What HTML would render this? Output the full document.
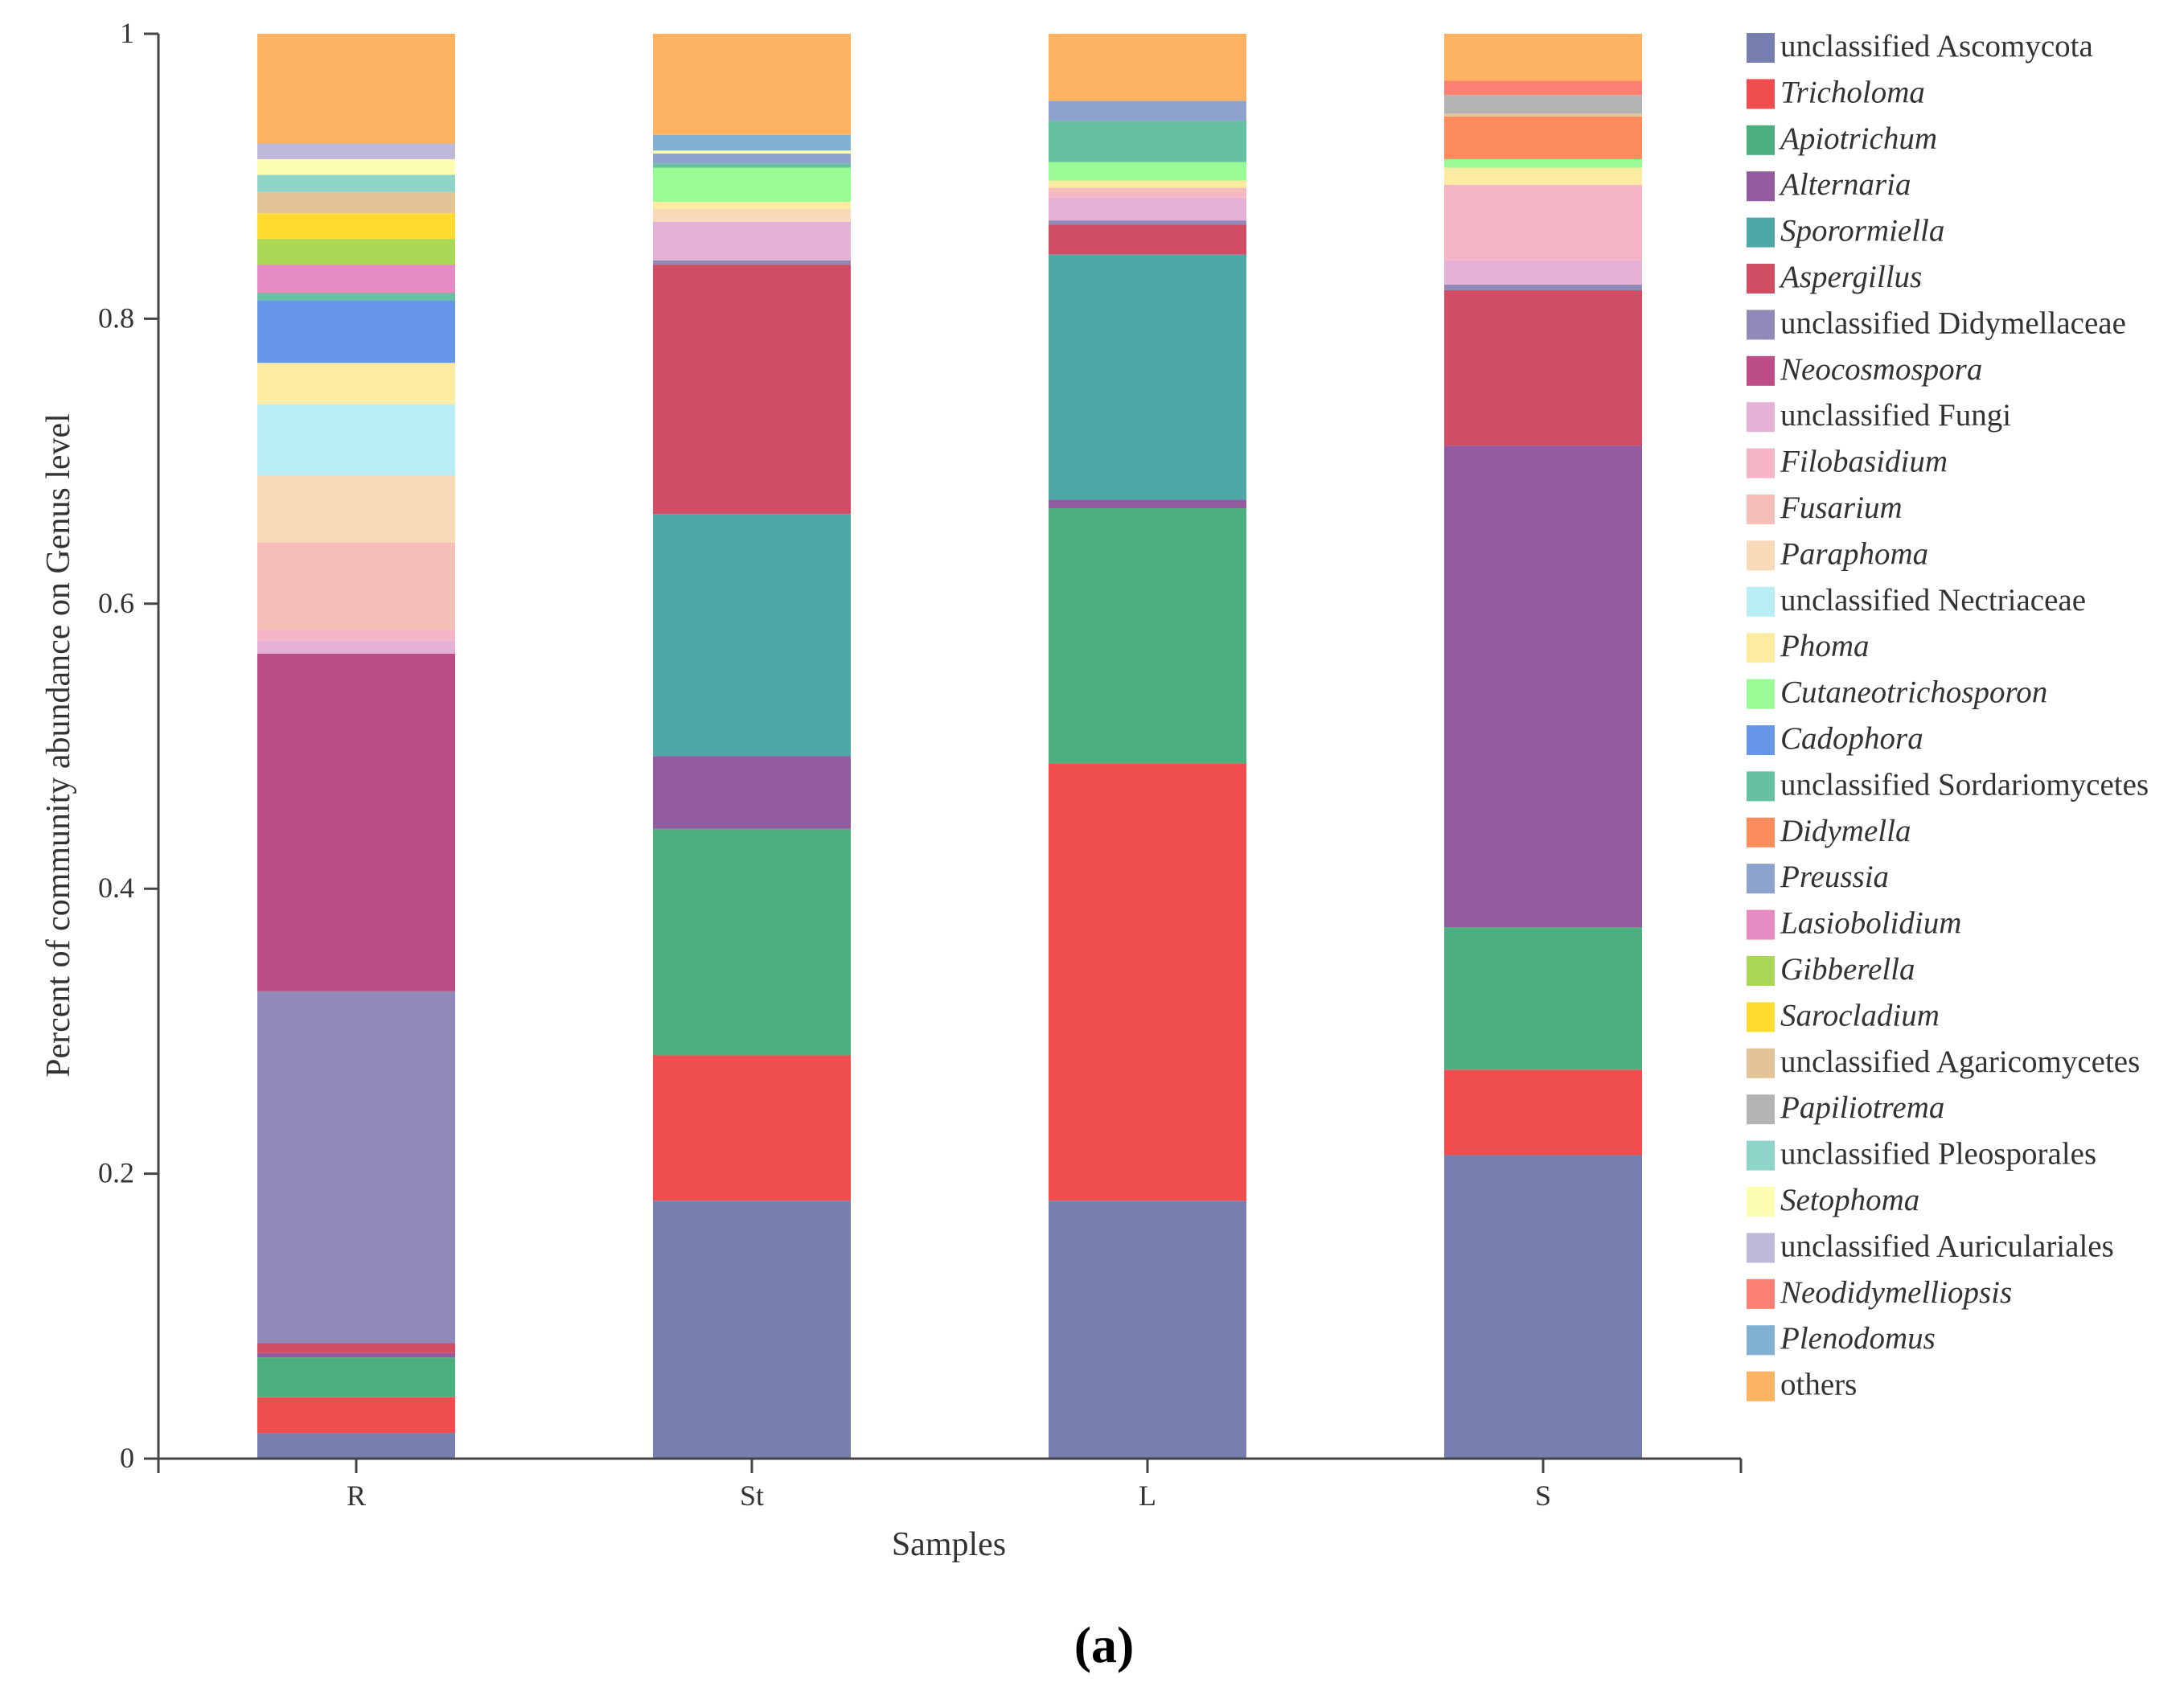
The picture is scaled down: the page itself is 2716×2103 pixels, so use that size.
<!DOCTYPE html>
<html><head><meta charset="utf-8"><style>
html,body{margin:0;padding:0;background:#fff;}
svg{display:block;}
text{font-family:"Liberation Serif","DejaVu Serif",serif;}
</style></head><body>
<svg id="chart" width="2716" height="2103" viewBox="0 0 2716 2103" xmlns="http://www.w3.org/2000/svg">
<g id="bars"></g>
<g id="axes"></g>
<g id="legend"></g>
<text x="0" y="0" transform="translate(86,927) rotate(-90)" text-anchor="middle" font-size="42" fill="#333">Percent of community abundance on Genus level</text>
<text x="1180" y="1934" text-anchor="middle" font-size="42" fill="#333">Samples</text>
<text x="1373" y="2067" text-anchor="middle" font-size="64" font-weight="bold" fill="#000">(a)</text>
</svg>
<script>
const categories = ["R","St","L","S"];
const seriesNames = ["unclassified Ascomycota","Tricholoma","Apiotrichum","Alternaria","Sporormiella","Aspergillus","unclassified Didymellaceae","Neocosmospora","unclassified Fungi","Filobasidium","Fusarium","Paraphoma","unclassified Nectriaceae","Phoma","Cutaneotrichosporon","Cadophora","unclassified Sordariomycetes","Didymella","Preussia","Lasiobolidium","Gibberella","Sarocladium","unclassified Agaricomycetes","Papiliotrema","unclassified Pleosporales","Setophoma","unclassified Auriculariales","Neodidymelliopsis","Plenodomus","others"];
const seriesColors = ["#767fb0","#f04e4e","#4caf7d","#925a9f","#4ea8a6","#d04e64","#9189b8","#bd4d87","#e5b1d6","#f5b5c4","#f5bfb8","#f8d9b8","#baeef7","#feeba2","#9bf996","#6596e8","#65c1a0","#fc8c5c","#8da2cc","#e58bc2","#a9d856","#fedb2e","#e3c496","#b3b3b3","#8fd4c8","#fefeb2","#beb9da","#fb8072","#80b1d3","#fbb362"];
const valuesR  = [0.018,0.025,0.028,0.003,0,0.007,0.247,0.237,0.009,0.008,0.061,0.047,0.050,0.029,0,0.044,0.005,0,0,0.020,0.018,0.018,0.015,0,0.012,0.011,0.011,0,0,0.077];
const valuesSt = [0.181,0.102,0.159,0.051,0.170,0.175,0.003,0,0.027,0,0,0.009,0,0.005,0.024,0,0.003,0,0.007,0,0,0,0,0,0,0.002,0,0,0.011,0.071];
const valuesL  = [0.181,0.307,0.179,0.006,0.172,0.021,0.003,0,0.016,0.004,0.003,0,0,0.005,0.013,0,0.029,0,0.014,0,0,0,0,0,0,0,0,0,0,0.047];
const valuesS  = [0.213,0.060,0.100,0.338,0,0.109,0.004,0,0.017,0.053,0,0,0,0.012,0.006,0,0,0.030,0,0,0,0,0.002,0.013,0,0,0,0.010,0,0.033];
const yTicks = [0,0.2,0.4,0.6,0.8,1];
const yTickLabels = ["0","0.2","0.4","0.6","0.8","1"];

const NS="http://www.w3.org/2000/svg";
const X0=197,X1=2165,Y0=1814,Y1=42;
const band=(X1-X0)/categories.length;
const xCenter=i=>X0+band*(i+0.5);
const yScale=v=>Y0-(Y0-Y1)*v;
const allValues=[valuesR,valuesSt,valuesL,valuesS];
function mk(tag,attrs,parent){const e=document.createElementNS(NS,tag);for(const k in attrs)e.setAttribute(k,attrs[k]);parent.appendChild(e);return e;}
const bars=document.getElementById('bars');
allValues.forEach((vals,ci)=>{
  let cum=0;const bw=band*0.5;
  vals.forEach((v,si)=>{
    if(v<=0){return;}
    const yTop=yScale(cum+v),yBot=yScale(cum);
    const r=mk('rect',{x:xCenter(ci)-bw/2,y:yTop,width:bw,height:yBot-yTop,fill:seriesColors[si]},bars);
    
    
    cum+=v;
  });
});
const axes=document.getElementById('axes');
let l=mk('line',{x1:X0,y1:Y1,x2:X0,y2:Y0,stroke:'#444','stroke-width':3},axes);


l=mk('line',{x1:X0,y1:Y0,x2:X1,y2:Y0,stroke:'#444','stroke-width':3},axes);


yTicks.forEach((t,i)=>{
  const y=yScale(t);
  const tk=mk('line',{x1:X0-18,y1:y,x2:X0,y2:y,stroke:'#444','stroke-width':3},axes);
  
  
  const tx=mk('text',{x:X0-30,y:y+11,'text-anchor':'end','font-size':36,fill:'#333'},axes);
  tx.textContent=yTickLabels[i];
  
  
});
[X0,X1].forEach(x=>{const e=mk('line',{x1:x,y1:Y0,x2:x,y2:Y0+18,stroke:'#444','stroke-width':3},axes);
  
  });
categories.forEach((c,i)=>{
  const tk=mk('line',{x1:xCenter(i),y1:Y0,x2:xCenter(i),y2:Y0+18,stroke:'#444','stroke-width':3},axes);
  
  
  const tx=mk('text',{x:xCenter(i),y:1872,'text-anchor':'middle','font-size':36,fill:'#333'},axes);
  tx.textContent=c;
  
  
});
const legend=document.getElementById('legend');
seriesNames.forEach((n,i)=>{
  const y=41+i*57.4;
  const g=mk('g',{},legend);
  
  
  mk('rect',{x:2172,y:y,width:35,height:37,fill:seriesColors[i]},g);
  const t=mk('text',{x:2214,y:y+29,'font-size':39,fill:'#333','font-style':(n.startsWith('unclassified')||n==='others')?'normal':'italic'},g);
  t.textContent=n;
});
</script>
</body></html>
